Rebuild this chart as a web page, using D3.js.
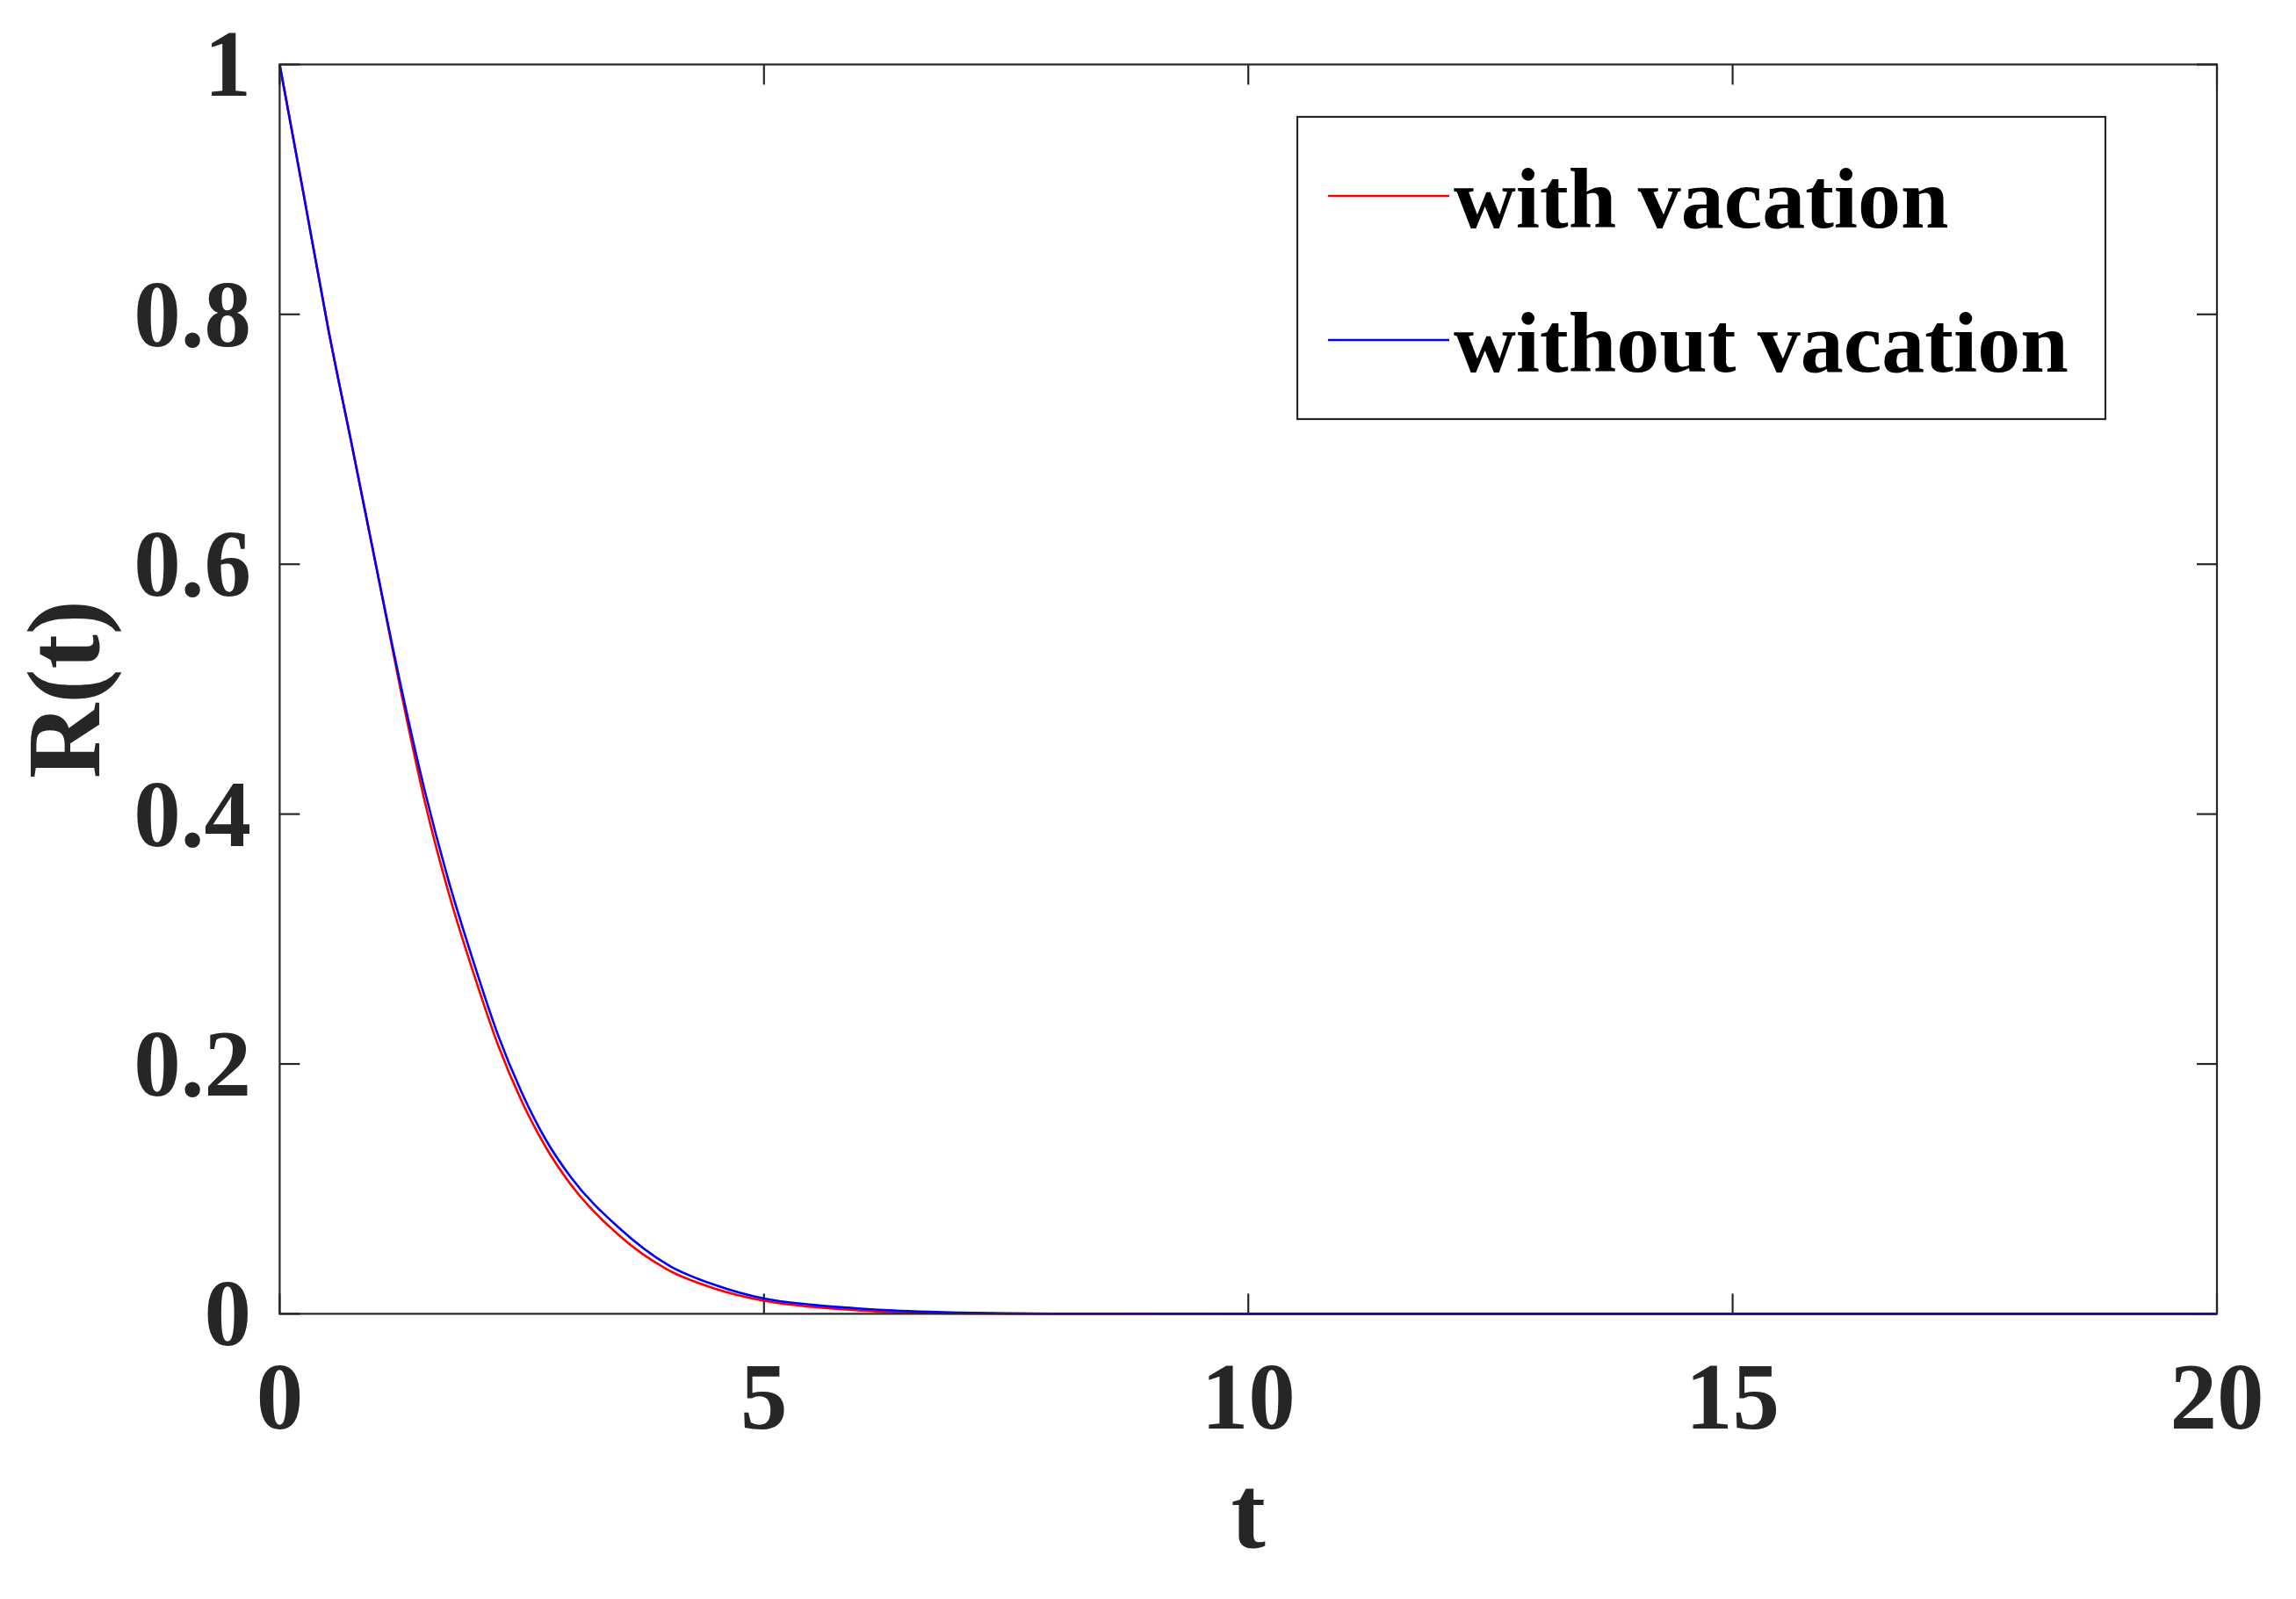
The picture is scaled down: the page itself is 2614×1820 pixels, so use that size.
<!DOCTYPE html>
<html>
<head>
<meta charset="utf-8">
<script src="https://cdn.jsdelivr.net/npm/d3@7"></script>
<style>
  body { margin: 0; background: #fff; }
  text { font-family: "Liberation Serif", "Times New Roman", serif; font-weight: bold; }
</style>
</head>
<body>
<div id="chart"></div>
<script>
// values
var tValues = [0, 0.25, 0.5, 0.75, 1.0, 1.25, 1.5, 1.75, 2.0, 2.25, 2.5, 2.75, 3.0, 3.5, 4.0, 4.5, 5.0, 5.5, 6.0, 6.5, 7.0, 7.5, 8.0, 10, 15, 20]
var withVacation = [1, 0.895, 0.789, 0.6935, 0.597, 0.499, 0.4095, 0.3355, 0.273, 0.216, 0.170, 0.133, 0.104, 0.063, 0.0355, 0.020, 0.0105, 0.0055, 0.0026, 0.0008, 0.0003, 0.0001, 0, 0, 0, 0]
var withoutVacation = [1, 0.895, 0.789, 0.6935, 0.597, 0.503, 0.418, 0.345, 0.282, 0.224, 0.177, 0.139, 0.110, 0.069, 0.0395, 0.0229, 0.0122, 0.0072, 0.0042, 0.0021, 0.0010, 0.0004, 0.0001, 0, 0, 0]
var xTicks = [0, 5, 10, 15, 20]
var yTicks = [0, 0.2, 0.4, 0.6, 0.8, 1]
var seriesNames = ["with vacation", "without vacation"]
var seriesColors = ["#ff0000", "#0000ff"]

var width = 2614,
    height = 1820;

var plotLeft = 318.4, plotRight = 2524, plotTop = 73.4, plotBottom = 1495.4;
var axisColor = "#262626";
var tickLen = 23;

var svg = d3.select("#chart")
    .append("svg")
    .attr("width", width)
    .attr("height", height)

svg.append("rect")
    .attr("width", width)
    .attr("height", height)
    .attr("fill", "#fff")

var x = d3.scaleLinear().domain([0, 20]).range([plotLeft, plotRight])
var y = d3.scaleLinear().domain([0, 1]).range([plotBottom, plotTop])

// ticks, all four sides, pointing in
var g = svg.append("g")

g.selectAll(".xt-b").data(xTicks).enter().append("line")
    .attr("x1", function(d) { return x(d) }).attr("x2", function(d) { return x(d) })
    .attr("y1", plotBottom).attr("y2", plotBottom - tickLen)
    .attr("stroke", axisColor).attr("stroke-width", 2.2)
g.selectAll(".xt-t").data(xTicks).enter().append("line")
    .attr("x1", function(d) { return x(d) }).attr("x2", function(d) { return x(d) })
    .attr("y1", plotTop).attr("y2", plotTop + tickLen)
    .attr("stroke", axisColor).attr("stroke-width", 2.2)
g.selectAll(".yt-l").data(yTicks).enter().append("line")
    .attr("y1", function(d) { return y(d) }).attr("y2", function(d) { return y(d) })
    .attr("x1", plotLeft).attr("x2", plotLeft + tickLen)
    .attr("stroke", axisColor).attr("stroke-width", 2.2)
g.selectAll(".yt-r").data(yTicks).enter().append("line")
    .attr("y1", function(d) { return y(d) }).attr("y2", function(d) { return y(d) })
    .attr("x1", plotRight).attr("x2", plotRight - tickLen)
    .attr("stroke", axisColor).attr("stroke-width", 2.2)

// tick labels
g.selectAll(".xl").data(xTicks).enter().append("text")
    .attr("x", function(d) { return x(d) })
    .attr("y", 1626)
    .attr("text-anchor", "middle")
    .attr("font-size", 107)
    .attr("fill", axisColor)
    .text(function(d) { return d })

g.selectAll(".yl").data(yTicks).enter().append("text")
    .attr("x", 286)
    .attr("y", function(d) { return y(d) + 36 })
    .attr("text-anchor", "end")
    .attr("font-size", 107)
    .attr("fill", axisColor)
    .text(function(d) { return d3.format("~g")(d) })

// axis labels
svg.append("text")
    .attr("x", (plotLeft + plotRight) / 2)
    .attr("y", 1762)
    .attr("text-anchor", "middle")
    .attr("font-size", 118)
    .attr("fill", axisColor)
    .text("t")

svg.append("text")
    .attr("transform", "translate(113," + ((plotTop + plotBottom) / 2) + ") rotate(-90)")
    .attr("text-anchor", "middle")
    .attr("font-size", 118)
    .attr("fill", axisColor)
    .text("R(t)")

// curves
var series = [withVacation, withoutVacation]
var line = d3.line()
    .x(function(d, i) { return x(tValues[i]) })
    .y(function(d) { return y(d) })
    .curve(d3.curveMonotoneX)

svg.selectAll(".curve").data(series).enter().append("path")
    .attr("class", "curve")
    .attr("d", function(d) { return line(d) })
    .attr("fill", "none")
    .attr("stroke", function(d, i) { return seriesColors[i] })
    .attr("stroke-width", 2.6)

// box
svg.append("rect")
    .attr("x", plotLeft).attr("y", plotTop)
    .attr("width", plotRight - plotLeft).attr("height", plotBottom - plotTop)
    .attr("fill", "none")
    .attr("stroke", axisColor)
    .attr("stroke-width", 2.2)

// legend
var legend = svg.append("g")
legend.append("rect")
    .attr("x", 1477).attr("y", 133)
    .attr("width", 920).attr("height", 344)
    .attr("fill", "#fff")
    .attr("stroke", axisColor)
    .attr("stroke-width", 2.2)

var rowY = [223, 387]
legend.selectAll(".lg-line").data(seriesNames).enter().append("line")
    .attr("x1", 1512).attr("x2", 1650)
    .attr("y1", function(d, i) { return rowY[i] })
    .attr("y2", function(d, i) { return rowY[i] })
    .attr("stroke", function(d, i) { return seriesColors[i] })
    .attr("stroke-width", 2.6)

legend.selectAll(".lg-text").data(seriesNames).enter().append("text")
    .attr("x", 1655)
    .attr("y", function(d, i) { return rowY[i] + 36 })
    .attr("font-size", 98)
    .attr("fill", "#000")
    .text(function(d) { return d })
</script>
</body>
</html>
